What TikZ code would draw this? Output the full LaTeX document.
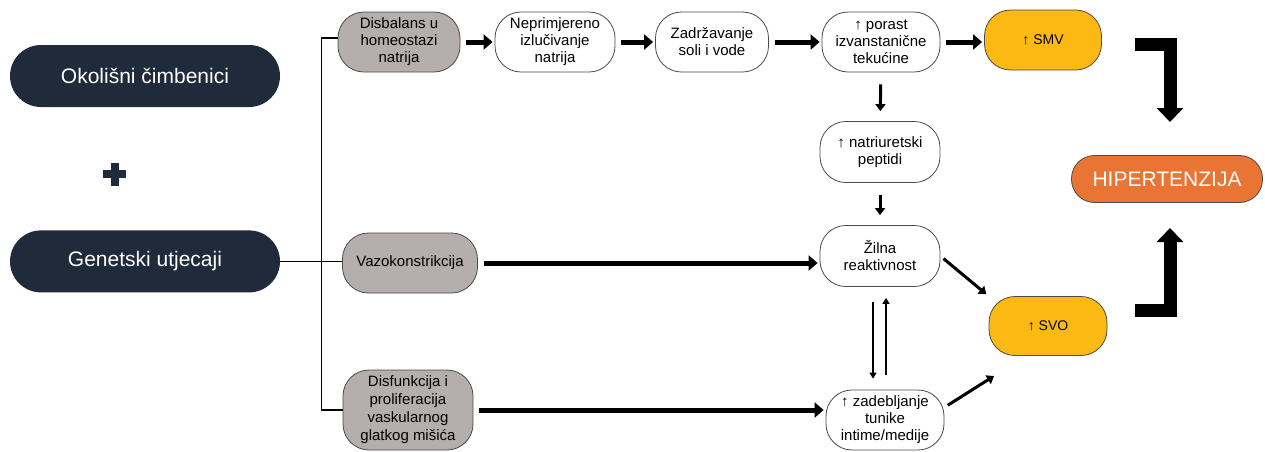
\documentclass[tikz,border=0pt]{standalone}
\usepackage{fontspec}
\setmainfont{Liberation Sans}
\usetikzlibrary{arrows.meta}
\usetikzlibrary{positioning}
\definecolor{navy}{HTML}{1F2A3A}
\definecolor{greybox}{HTML}{B4AFAD}
\definecolor{gold}{HTML}{FDB913}
\definecolor{rust}{HTML}{EA7434}
\definecolor{rim}{HTML}{4A4A4A}

\begin{document}
\begin{tikzpicture}[x=1pt, y=-1pt,
every node/.style={align=center, inner sep=1pt, font=\fontsize{15}{17}\selectfont},
dark/.style={fill=navy, text=white, rounded corners=31pt, minimum width=270pt, minimum height=62pt, font=\fontsize{21}{24}\selectfont},
box/.style={draw=rim, line width=.8pt, fill=white, rounded corners=26pt, minimum height=60pt},
grey/.style={box, fill=greybox},
gold box/.style={box, fill=gold, font=\fontsize{14}{16}\selectfont},
bigarr/.style={line width=5pt, -{Triangle[length=9pt, width=15pt]}, shorten <=6pt, shorten >=2pt},
midarr/.style={line width=3pt, -{Triangle[length=7pt, width=10pt]}},
thinarr/.style={line width=2pt, -{Triangle[length=6pt, width=7pt]}, shorten <=15pt, shorten >=11pt},
lbend/.style={line width=13pt, -{Triangle[length=14pt, width=26pt]}}]
\useasboundingbox (0,0) rectangle (1265,451);

% left side
\node[dark] (oko) at (145,76) {Okolišni čimbenici};
\node[dark, below = 123pt of oko] (gen) {Genetski utjecaji};
\draw[navy, line width=8pt] (103,174) -- (126,174) (114.5,163) -- (114.5,186);

% causes
\node[grey, minimum width=122pt] (disb) at (399,42) {Disbalans u\\homeostazi\\natrija};
\node[grey, minimum width=135pt] (vazo) at (410,263) {Vazokonstrikcija};
\node[grey, minimum width=130pt, minimum height=80pt, font=\fontsize{15}{18}\selectfont] (disf) at (408,410) {Disfunkcija i\\proliferacija\\vaskularnog\\glatkog mišića};

\draw[line width=1.2pt] (gen.east) -- (gen.east -| vazo.west);
\draw[line width=1.2pt] ([yshift=4pt]disb.west) -- ++(-16,0) |- (disf.west);

% sodium chain
\node[box, minimum width=120pt] (nepr) at (555,42) {Neprimjereno\\izlučivanje\\natrija};
\node[box, minimum width=113pt] (zadr) at (712,42) {Zadržavanje\\soli i vode};
\node[box, minimum width=118pt] (por) at (881,42) {↑ porast\\izvanstanične\\tekućine};
\node[gold box, minimum width=117pt] (smv) at (1043,40) {↑ SMV};
\node[box, minimum width=120pt, minimum height=61pt] (nat) at (880,152) {↑ natriuretski\\peptidi};
\node[box, minimum width=120pt, minimum height=61pt] (zil) at (880,256) {Žilna\\reaktivnost};
\node[box, minimum width=118pt] (zad) at (885,420) {↑ zadebljanje\\tunike\\intime/medije};
\node[gold box, minimum width=118pt, minimum height=59pt] (svo) at (1048,326) {↑ SVO};
\node[box, fill=rust, text=white, rounded corners=23pt, minimum width=191pt, minimum height=47pt, font=\fontsize{21}{24}\selectfont] (hip) at (1167,179) {HIPERTENZIJA};

\foreach \a/\b in {disb/nepr, nepr/zadr, zadr/por, por/smv, vazo/zil, disf/zad}{
\draw[bigarr] (\a) -- (\a -| \b.west);}
\foreach \a/\b in {por/nat, nat/zil}{
\draw[midarr, shorten <=12pt, shorten >=10pt] (\a) -- (\b);}

\coordinate (svoin) at (994,376);
\draw[midarr, shorten <=4pt, shorten >=3pt] (zil.east) -- (svo.north west);
\draw[midarr, shorten <=4pt] (zad.12) -- (svoin);

\draw[thinarr] ([xshift=-7pt]zil.south) -- ([xshift=-7pt]zil.south |- zad.north);
\draw[thinarr] ([xshift=6pt]zil.south |- zad.north) -- ([xshift=6pt]zil.south);

% bends towards hypertension
\coordinate (topbend) at (1135,44);
\coordinate (lowbend) at (1135,310);
\draw[lbend] (topbend) -- (1170,44) -- (1170,122);
\draw[lbend] (lowbend) -- (1170,310) -- (1170,228);
\end{tikzpicture}
\end{document}
